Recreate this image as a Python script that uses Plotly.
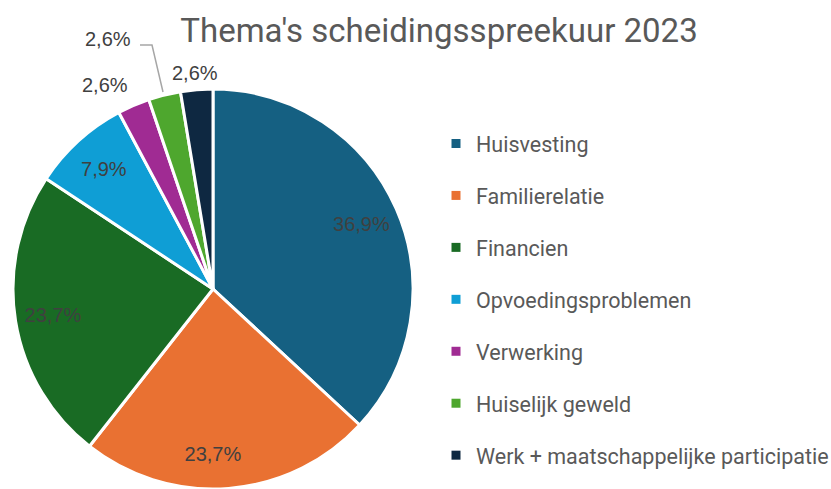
import plotly.graph_objects as go

# data
themas = ["Huisvesting", "Familierelatie", "Financien", "Opvoedingsproblemen",
          "Verwerking", "Huiselijk geweld", "Werk + maatschappelijke participatie"]
aandeel = [36.9, 23.7, 23.7, 7.9, 2.6, 2.6, 2.6]
kleuren = ["#156082", "#E97132", "#196B24", "#0F9ED5", "#A02B93", "#4EA72E", "#0E2841"]
# waar staat het percentage: ring (binnen), verder naar buiten (rand), of los label
label_plek = ["ring", "rand", "ring", "ring", "los", "los", "los"]
buiten_pos = {4: (105, 85), 5: (108, 39), 6: (195, 73)}  # pixelposities van de losse labels

W, H = 831, 489
dom = dict(x=[10 / W, 416 / W], y=[0, (H - 89) / H])
label_font = dict(family="Liberation Sans, Arial", size=20, color="#404040")

fig = go.Figure()
fig.add_trace(go.Pie(
    labels=themas, values=aandeel, sort=False, direction="clockwise", rotation=0,
    marker=dict(colors=kleuren, line=dict(color="white", width=3)),
    textinfo="none", domain=dom, showlegend=False, hoverinfo="label+percent",
))
# doorzichtige ringen erover zodat de labels verder naar buiten staan (zoals Excel)
for plek, gat in [("ring", 0.62), ("rand", 0.7)]:
    fig.add_trace(go.Pie(
        labels=themas, values=aandeel, sort=False, direction="clockwise", rotation=0,
        hole=gat, marker=dict(colors=["rgba(0,0,0,0)"] * len(themas), line=dict(width=0)),
        texttemplate="%{percent:.1%}",
        textposition=["inside" if p == plek else "none" for p in label_plek],
        insidetextorientation="horizontal", textfont=label_font,
        domain=dom, showlegend=False, hoverinfo="skip",
    ))

totaal = sum(aandeel)
for i, (px_x, px_y) in buiten_pos.items():
    tekst = f"{aandeel[i] / totaal * 100:.1f}%".replace(".", ",")
    fig.add_annotation(x=px_x / W, y=1 - px_y / H, xref="paper", yref="paper",
                       xanchor="center", yanchor="middle",
                       text=tekst, showarrow=False, font=label_font)

# verbindingslijn voor het label van Huiselijk geweld
fig.add_shape(type="path", xref="paper", yref="paper",
              path=f"M {140 / W} {1 - 45 / H} L {152 / W} {1 - 45 / H} L {163 / W} {1 - 92 / H}",
              line=dict(color="#A6A6A6", width=1.5))

# legend via dummy traces (zodat de afstand tussen items klopt)
for naam, kleur in zip(themas, kleuren):
    fig.add_trace(go.Scatter(
        x=[None], y=[None], mode="markers", name=naam, legendgroup=naam,
        marker=dict(symbol="square", size=9, color=kleur),
    ))

fig.update_layout(
    width=W, height=H, separators=",.",
    margin=dict(l=0, r=0, t=0, b=0, autoexpand=False),
    paper_bgcolor="white", plot_bgcolor="white",
    title=dict(text="Thema's scheidingsspreekuur 2023", x=439 / W, xanchor="center",
               y=1 - 30 / H, yanchor="middle",
               font=dict(family="Roboto, sans-serif", size=33, color="#595959")),
    xaxis=dict(visible=False), yaxis=dict(visible=False),
    legend=dict(x=436 / W, y=1 - 123 / H, xanchor="left", yanchor="top",
                tracegroupgap=21, bgcolor="rgba(0,0,0,0)",
                font=dict(family="Roboto, sans-serif", size=21.5, color="#595959")),
)

# body-marge weg, anders schuift alles 8px op
fig.write_html("out.html", config={"displayModeBar": False},
               post_script="document.body.style.margin='0';")
